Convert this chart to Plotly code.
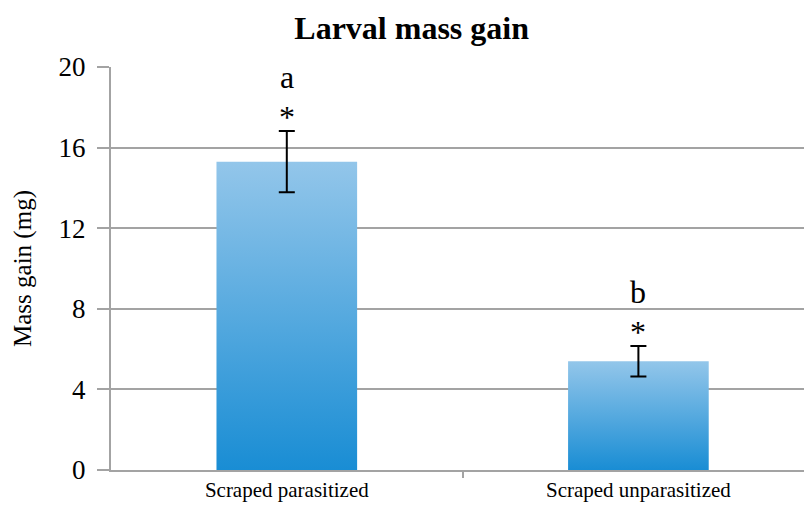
import plotly.graph_objects as go

categories = ["Scraped parasitized", "Scraped unparasitized"]
mass_gain = [15.3, 5.4]
error = [1.52, 0.76]
letters = ["a", "b"]
stars = ["*", "*"]
y_ticks = [0, 4, 8, 12, 16, 20]

BAR_HALF = 0.2
GRAY = "#a3a3a3"
FONT = "Liberation Serif, Times New Roman, serif"

fig = go.Figure()

for i, v in enumerate(mass_gain):
    fig.add_trace(go.Scatter(
        x=[i - BAR_HALF, i + BAR_HALF, i + BAR_HALF, i - BAR_HALF, i - BAR_HALF],
        y=[0, 0, v, v, 0],
        mode="lines", line=dict(width=0), fill="toself",
        fillgradient=dict(type="vertical",
                          colorscale=[[0, "#198dd4"], [1, "#93c6ea"]]),
        hoverinfo="skip", showlegend=False,
    ))

fig.add_trace(go.Scatter(
    x=list(range(len(categories))), y=mass_gain, mode="markers",
    marker=dict(size=1, color="rgba(0,0,0,0)"),
    error_y=dict(type="data", array=error, visible=True,
                 color="black", thickness=2, width=8),
    showlegend=False,
))

for i, v in enumerate(mass_gain):
    fig.add_annotation(x=i, y=v + error[i], text=stars[i], showarrow=False,
                       yanchor="bottom", yshift=-6,
                       font=dict(family=FONT, size=32, color="black"))
    fig.add_annotation(x=i, y=v + error[i], text=letters[i], showarrow=False,
                       yanchor="middle", yshift=54,
                       font=dict(family=FONT, size=32, color="black"))

fig.update_layout(
    width=804, height=512,
    margin=dict(l=111, r=0, t=67, b=42),
    paper_bgcolor="white", plot_bgcolor="white",
    title=dict(text="<b>Larval mass gain</b>", x=0.512, xanchor="center",
               y=0.945, yanchor="middle",
               font=dict(family=FONT, size=32, color="black")),
    font=dict(family=FONT, color="black"),
)

fig.update_xaxes(
    range=[-0.5, 1.471], tickvals=list(range(len(categories))),
    ticktext=categories, ticks="", showgrid=False, zeroline=False,
    showline=True, linecolor=GRAY, linewidth=2, automargin=False,
    tickfont=dict(family=FONT, size=21, color="black"),
    minor=dict(tickvals=[0.5, 1.5], ticks="outside", ticklen=6,
               tickcolor=GRAY, tickwidth=2, showgrid=False),
)

fig.update_yaxes(
    range=[0, 20], tickvals=y_ticks, ticks="outside", ticklen=12,
    tickcolor=GRAY, tickwidth=2, showgrid=True, gridcolor=GRAY, gridwidth=2,
    zeroline=False, showline=True, linecolor=GRAY, linewidth=2,
    automargin=False, ticklabelstandoff=6,
    tickfont=dict(family=FONT, size=27, color="black"),
    title=dict(text="Mass gain (mg)", standoff=20,
               font=dict(family=FONT, size=25, color="black")),
)

fig.write_html("out.html", config={"displayModeBar": False},
               post_script="document.body.style.margin='0';")
